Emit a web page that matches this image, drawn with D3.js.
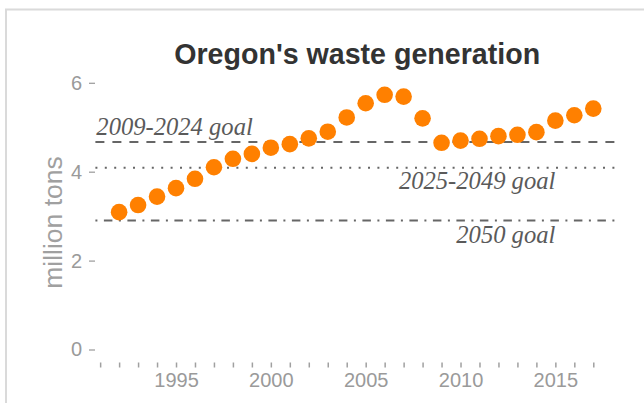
<html>

<head>
    <meta charset="UTF-8">
    <script src="https://d3js.org/d3.v7.min.js"></script>
    <title>Oregon's waste generation</title>
    <style>
        body { margin: 0; background: white; }
        text { font-family: "Liberation Sans", Arial, sans-serif; }
    </style>
</head>

<body>
    <svg width="644" height="403"></svg>

    <script>
        // data (million tons per year)
        const years = [1992, 1993, 1994, 1995, 1996, 1997, 1998, 1999, 2000, 2001, 2002, 2003, 2004,
            2005, 2006, 2007, 2008, 2009, 2010, 2011, 2012, 2013, 2014, 2015, 2016, 2017];
        const tons = [3.09, 3.25, 3.44, 3.63, 3.84, 4.10, 4.29, 4.40, 4.54, 4.62, 4.75, 4.90, 5.22,
            5.54, 5.73, 5.69, 5.20, 4.65, 4.70, 4.74, 4.80, 4.83, 4.89, 5.15, 5.27, 5.42];

        // goal lines
        const goalNames = ['2009-2024 goal', '2025-2049 goal', '2050 goal'];
        const goalValues = [4.67, 4.09, 2.90];

        const yTicks = [0, 2, 4, 6];
        const xTickYears = [1991, 1992, 1993, 1994, 1995, 1996, 1997, 1998, 1999, 2000, 2001, 2002, 2003,
            2004, 2005, 2006, 2007, 2008, 2009, 2010, 2011, 2012, 2013, 2014, 2015, 2016, 2017];
        const xLabels = [1995, 2000, 2005, 2010, 2015];

        const svg = d3.select('svg');

        // frame round the chart
        svg.append('rect')
            .attr('x', 6).attr('y', 9.5)
            .attr('width', 700).attr('height', 500)
            .style('fill', 'none')
            .style('stroke', '#dadada')
            .style('stroke-width', 2);

        const left = 95.4, right = 617;
        const x = d3.scaleLinear().domain([1990.75, 2018.25]).range([left, right]);
        const y = d3.scaleLinear().domain([0, 6]).range([349.5, 82.8]);

        // title
        svg.append('text')
            .attr('x', (left + right) / 2 + 1)
            .attr('y', 63.5)
            .attr('text-anchor', 'middle')
            .style('font-size', '28.6px')
            .style('font-weight', 'bold')
            .style('fill', '#333333')
            .text("Oregon's waste generation");

        // y axis label
        svg.append('text')
            .attr('transform', 'translate(62, 222.5) rotate(-90)')
            .attr('text-anchor', 'middle')
            .style('font-size', '26.5px')
            .style('fill', '#a0a0a0')
            .text('million tons');

        // y axis: ticks are little dashes left of the panel
        const yAxis = d3.axisLeft(y).tickValues(yTicks).tickSize(6).tickPadding(7).tickFormat(d3.format('d'));
        const gy = svg.append('g')
            .attr('transform', 'translate(95, 0)')
            .call(yAxis);
        gy.select('.domain').remove();
        gy.selectAll('line').style('stroke', '#a0a0a0').style('stroke-width', 1.3);
        gy.selectAll('text')
            .style('font-size', '20px')
            .style('fill', '#9a9a9a')
            .style('font-family', '"Liberation Sans", Arial, sans-serif');

        // x axis: a tick every year, labels every five
        const xAxis = d3.axisBottom(x).tickValues(xTickYears).tickSize(5)
            .tickFormat(d => xLabels.includes(d) ? d : '');
        const gx = svg.append('g')
            .attr('transform', 'translate(0, 362.5)')
            .call(xAxis);
        gx.select('.domain').remove();
        gx.selectAll('line').style('stroke', '#a0a0a0').style('stroke-width', 1.5);
        gx.selectAll('text')
            .attr('dy', '0.45em')
            .attr('y', 15)
            .style('font-size', '20px')
            .style('fill', '#9a9a9a')
            .style('font-family', '"Liberation Sans", Arial, sans-serif');

        // goal lines
        const dashes = ['9,8', '2,7.4', '2,6.5,8.5,6.5'];
        svg.selectAll('.goal')
            .data(goalValues)
            .join('line')
            .attr('class', 'goal')
            .attr('x1', left).attr('x2', right)
            .attr('y1', d => y(d)).attr('y2', d => y(d))
            .style('stroke', '#666666')
            .style('stroke-width', 2)
            .style('stroke-dasharray', (d, i) => dashes[i]);

        // goal labels
        const labelX = [x(1990.8), x(2015), x(2015)];
        const labelAnchor = ['start', 'end', 'end'];
        const labelShift = [-7, 21, 22];
        svg.selectAll('.goalLabel')
            .data(goalNames)
            .join('text')
            .attr('class', 'goalLabel')
            .attr('x', (d, i) => labelX[i])
            .attr('y', (d, i) => y(goalValues[i]) + labelShift[i])
            .attr('text-anchor', (d, i) => labelAnchor[i])
            .style('font-family', '"Liberation Serif", "Times New Roman", serif')
            .style('font-style', 'italic')
            .style('font-size', '24.6px')
            .style('fill', '#5a5a5a')
            .text(d => d);

        // points
        svg.selectAll('circle')
            .data(years)
            .join('circle')
            .attr('cx', d => x(d))
            .attr('cy', (d, i) => y(tons[i]))
            .attr('r', 8.3)
            .style('fill', '#ff8000');
    </script>
</body>

</html>
